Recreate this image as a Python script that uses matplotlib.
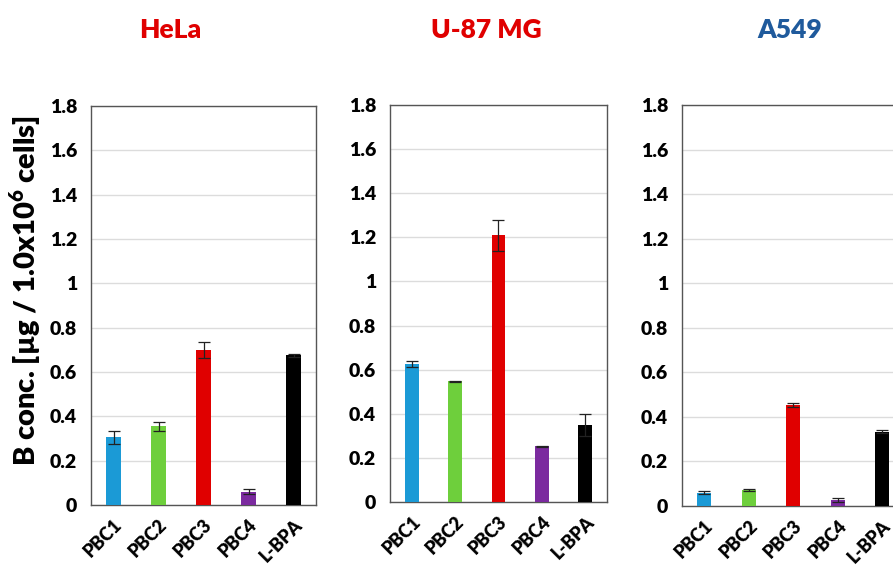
import numpy as np
import matplotlib
matplotlib.use("Agg")
import matplotlib.pyplot as plt

plt.rcParams['font.family'] = ['Lato', 'DejaVu Sans']
plt.rcParams['mathtext.fontset'] = 'custom'
plt.rcParams['mathtext.bf'] = 'Lato:heavy'
plt.rcParams['mathtext.rm'] = 'Lato'

# Data
categories = ["PBC1", "PBC2", "PBC3", "PBC4", "L-BPA"]
bar_colors = ["#1b9ad6", "#6ecf3c", "#e00000", "#7b2a9f", "#000000"]

hela_vals = [0.305, 0.355, 0.700, 0.060, 0.675]
hela_err = [0.030, 0.020, 0.035, 0.010, 0.008]

u87_vals = [0.625, 0.548, 1.210, 0.253, 0.350]
u87_err = [0.015, 0.002, 0.070, 0.003, 0.050]

a549_vals = [0.060, 0.072, 0.453, 0.028, 0.333]
a549_err = [0.006, 0.004, 0.010, 0.010, 0.006]

titles = ["HeLa", "U-87 MG", "A549"]
title_colors = ["#e00000", "#e00000", "#1f5a9c"]

fig = plt.figure(figsize=(8.93, 5.66), dpi=100)

panels = [
    (hela_vals, hela_err, [0.1019, 0.1078, 0.2520, 0.7050], 0.191),
    (u87_vals, u87_err, [0.4367, 0.1131, 0.2430, 0.7014], 0.545),
    (a549_vals, a549_err, [0.7637, 0.1060, 0.2490, 0.7085], 0.884),
]

for i, (vals, errs, rect, tx) in enumerate(panels):
    ax = fig.add_axes(rect)
    x = np.arange(len(categories)) + 0.5
    ax.bar(x, vals, width=0.32, color=bar_colors, zorder=3)
    ax.errorbar(x, vals, yerr=errs, fmt='none', ecolor='#222222',
                elinewidth=0.9, capsize=4, capthick=0.9, zorder=4)
    ax.set_xlim(0, len(categories))
    ax.set_ylim(0, 1.8)
    ax.set_yticks(np.arange(0, 1.81, 0.2))
    ax.set_yticklabels(["0", "0.2", "0.4", "0.6", "0.8", "1", "1.2", "1.4", "1.6", "1.8"],
                       fontsize=14, fontweight='heavy')
    ax.set_xticks(x)
    ax.set_xticklabels(categories, rotation=45, ha='right', rotation_mode='anchor',
                       fontsize=13, fontweight='heavy')
    ax.tick_params(length=0, pad=10)
    ax.tick_params(axis='x', pad=8)
    ax.grid(axis='y', color='#dcdcdc', linewidth=1, zorder=0)
    for s in ax.spines.values():
        s.set_color('#555555')
        s.set_linewidth(1)
    fig.text(tx, 0.947, titles[i], color=title_colors[i], fontsize=19,
             fontweight='heavy', ha='center', va='center')

fig.text(0.028, 0.486, r"B conc. [µg / 1.0x10$^{\mathbf{6}}$ cells]",
         fontsize=21, fontweight='heavy', rotation=90, ha='center', va='center')

fig.savefig("out.png", dpi=100)
